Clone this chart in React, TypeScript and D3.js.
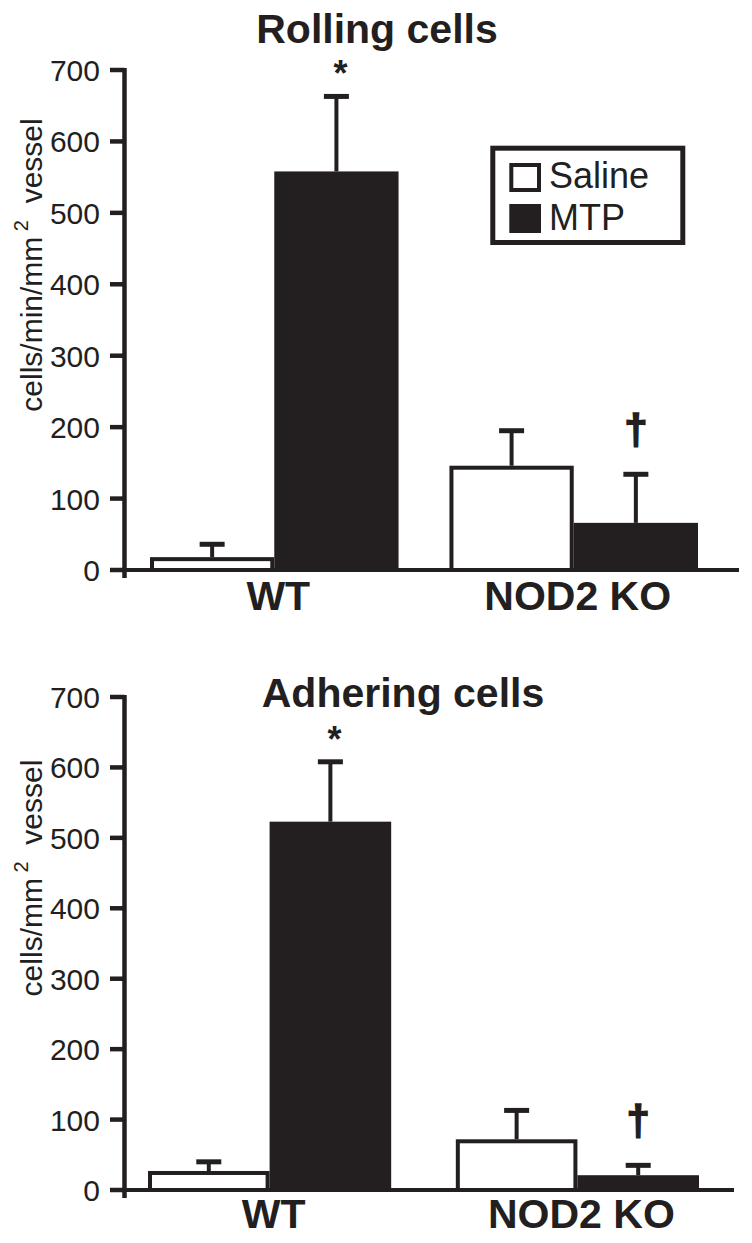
import React from "react";
import * as d3 from "d3";

// ---------- data ----------
const groups = ["WT", "NOD2 KO"];
const treatments = ["Saline", "MTP"];
const yTicks = [0, 100, 200, 300, 400, 500, 600, 700];

const rollingSaline = [18, 146];
const rollingSalineErr = [18, 49];
const rollingMTP = [558, 66];
const rollingMTPErr = [105, 68];
const rollingMarks = ["*", "†"]; // marks above the MTP bars

const adheringSaline = [27, 72];
const adheringSalineErr = [13, 41];
const adheringMTP = [523, 21];
const adheringMTPErr = [85, 14];
const adheringMarks = ["*", "†"];

const INK = "#231f20";
const FONT = "'Liberation Sans', Arial, Helvetica, sans-serif";

type PanelProps = {
  title: string;
  titleX: number;
  titleY: number;
  saline: number[];
  salineErr: number[];
  mtp: number[];
  mtpErr: number[];
  marks: string[];
  y0: number;
  y700: number;
  xStart: number;
  xEnd: number;
  padInner: number;
  axisEnd: number;
  labelBaseline: number;
  yLabel: React.ReactNode;
  yLabelCenter: number;
  showLegend: boolean;
};

function Panel(p: PanelProps) {
  const y = d3.scaleLinear().domain([0, 700]).range([p.y0, p.y700]);
  const x0 = d3.scaleBand<string>().domain(groups).range([p.xStart, p.xEnd]).paddingInner(p.padInner).paddingOuter(0);
  const x1 = d3.scaleBand<string>().domain(treatments).range([0, x0.bandwidth()]).padding(0);
  const axisX = 124.5;

  const bars: { g: string; t: string; v: number; e: number; mark?: string }[] = [];
  groups.forEach((g, i) => {
    bars.push({ g, t: "Saline", v: p.saline[i], e: p.salineErr[i] });
    bars.push({ g, t: "MTP", v: p.mtp[i], e: p.mtpErr[i], mark: p.marks[i] });
  });

  return (
    <g>
      <text x={p.titleX} y={p.titleY} textAnchor="middle" fontFamily={FONT} fontWeight="bold" fontSize={41} fill={INK}>
        {p.title}
      </text>
      {/* bars */}
      {bars.map((b, i) => {
        const bx = (x0(b.g) as number) + (x1(b.t) as number);
        const bw = x1.bandwidth();
        const cx = bx + bw / 2;
        const top = y(b.v);
        const cap = y(b.v + b.e);
        const isSaline = b.t === "Saline";
        return (
          <g key={i}>
            <line x1={cx} x2={cx} y1={top} y2={cap} stroke={INK} strokeWidth={4} />
            <line x1={cx - 12.5} x2={cx + 12.5} y1={cap} y2={cap} stroke={INK} strokeWidth={5} />
            {isSaline ? (
              <rect x={bx + 2} y={top + 2} width={bw - 4} height={p.y0 - top - 2} fill="#fff" stroke={INK} strokeWidth={4} />
            ) : (
              <rect x={bx} y={top} width={bw} height={p.y0 - top} fill={INK} />
            )}
            {b.mark === "*" && (
              <text x={cx + 4} y={cap - 10} textAnchor="middle" fontFamily={FONT} fontWeight="bold" fontSize={36} fill={INK}>*</text>
            )}
            {b.mark === "†" && (
              <text x={cx} y={cap - 30} textAnchor="middle" fontFamily={FONT} fontWeight="bold" fontSize={42} fill={INK} stroke={INK} strokeWidth={1.5}>†</text>
            )}
          </g>
        );
      })}
      {/* x axis */}
      <line x1={axisX} x2={p.axisEnd} y1={p.y0} y2={p.y0} stroke={INK} strokeWidth={4} />
      {/* y axis */}
      <line x1={axisX} x2={axisX} y1={p.y700 - 2} y2={p.y0 + 8} stroke={INK} strokeWidth={4.5} />
      {yTicks.map((t) => (
        <g key={t}>
          <line x1={110} x2={axisX} y1={y(t)} y2={y(t)} stroke={INK} strokeWidth={4.5} />
          <text x={100} y={y(t) + 11} textAnchor="end" fontFamily={FONT} fontSize={30} fill={INK}>
            {t}
          </text>
        </g>
      ))}
      {/* group labels */}
      {groups.map((g) => (
        <text key={g} x={(x0(g) as number) + x0.bandwidth() / 2 + 4} y={p.labelBaseline} textAnchor="middle" fontFamily={FONT} fontWeight="bold" fontSize={41} fill={INK}>
          {g}
        </text>
      ))}
      {/* y label */}
      <text transform={`translate(42, ${p.yLabelCenter}) rotate(-90)`} textAnchor="middle" fontFamily={FONT} fontSize={30} fill={INK}>
        {p.yLabel}
      </text>
      {p.showLegend && (
        <g>
          <rect x={492.8} y={148.2} width={190} height={94.3} fill="#fff" stroke={INK} strokeWidth={5} />
          <rect x={511.3} y={165} width={27.7} height={25} fill="#fff" stroke={INK} strokeWidth={4} />
          <rect x={509.3} y={204} width={31.7} height={29} fill={INK} />
          <text x={549} y={188} fontFamily={FONT} fontSize={36} fill={INK}>{treatments[0]}</text>
          <text x={549} y={230} fontFamily={FONT} fontSize={36} fill={INK}>{treatments[1]}</text>
        </g>
      )}
    </g>
  );
}

export default function App() {
  return (
    <svg width={752} height={1243} style={{ position: "absolute", left: 0, top: 0, background: "#fff" }}>
      <rect x={0} y={0} width={752} height={1243} fill="#fff" />
      <Panel
        title="Rolling cells"
        titleX={377}
        titleY={43}
        saline={rollingSaline}
        salineErr={rollingSalineErr}
        mtp={rollingMTP}
        mtpErr={rollingMTPErr}
        marks={rollingMarks}
        y0={570}
        y700={70}
        xStart={150}
        xEnd={698}
        padInner={0.17}
        axisEnd={739}
        labelBaseline={610}
        yLabel={
          <>
            cells/min/mm<tspan fontSize={20} dy={-14}>{"\u00a02"}</tspan>
            <tspan dy={14}>{"\u00a0\u00a0vessel"}</tspan>
          </>
        }
        yLabelCenter={265}
        showLegend={true}
      />
      <Panel
        title="Adhering cells"
        titleX={403}
        titleY={707}
        saline={adheringSaline}
        salineErr={adheringSalineErr}
        mtp={adheringMTP}
        mtpErr={adheringMTPErr}
        marks={adheringMarks}
        y0={1190}
        y700={697}
        xStart={148}
        xEnd={699}
        padInner={0.21}
        axisEnd={734}
        labelBaseline={1228}
        yLabel={
          <>
            cells/mm<tspan fontSize={20} dy={-14}>{"\u00a02"}</tspan>
            <tspan dy={14}>{"\u00a0\u00a0vessel"}</tspan>
          </>
        }
        yLabelCenter={878}
        showLegend={false}
      />
    </svg>
  );
}
